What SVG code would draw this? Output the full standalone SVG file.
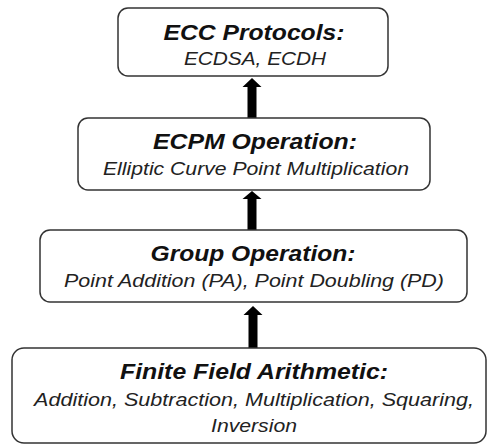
<svg xmlns="http://www.w3.org/2000/svg" width="488" height="444" viewBox="0 0 488 444">
<style>
.box{fill:#fff;stroke:#333;stroke-width:1.5}
.t{font-family:"Liberation Sans",Arial,sans-serif;font-weight:bold;font-style:italic;font-size:22px;fill:#111;text-anchor:middle}
.s{font-family:"Liberation Sans",Arial,sans-serif;font-style:italic;font-size:19px;fill:#222;text-anchor:middle}
.arr{fill:#000}
</style>
<rect width="488" height="444" fill="#fff"/>
<g id="connectors">
<path class="arr" d="M247.5,118 V87 H242.5 L252,78 L261.5,87 H256.5 V118 Z"/>
<path class="arr" d="M247.5,230 V199 H242.5 L252,191 L261.5,199 H256.5 V230 Z"/>
<path class="arr" d="M248.5,348 V315 H243.5 L253,306 L262.5,315 H257.5 V348 Z"/>
</g>
<g id="ecc">
<rect class="box" x="118" y="8" width="270" height="68" rx="10"/>
<text class="t" x="254" y="40" textLength="181" lengthAdjust="spacingAndGlyphs">ECC Protocols:</text>
<text class="s" x="255" y="65" textLength="142" lengthAdjust="spacingAndGlyphs">ECDSA, ECDH</text>
</g>
<g id="ecpm">
<rect class="box" x="78" y="118" width="352" height="72" rx="10"/>
<text class="t" x="255" y="149" textLength="204" lengthAdjust="spacingAndGlyphs">ECPM Operation:</text>
<text class="s" x="256" y="175" textLength="306" lengthAdjust="spacingAndGlyphs">Elliptic Curve Point Multiplication</text>
</g>
<g id="group">
<rect class="box" x="40" y="230" width="427" height="72" rx="10"/>
<text class="t" x="253" y="261" textLength="205" lengthAdjust="spacingAndGlyphs">Group Operation:</text>
<text class="s" x="254" y="287" textLength="380" lengthAdjust="spacingAndGlyphs">Point Addition (PA), Point Doubling (PD)</text>
</g>
<g id="ffa">
<rect class="box" x="12" y="348" width="474" height="95" rx="12"/>
<text class="t" x="254" y="379" textLength="268" lengthAdjust="spacingAndGlyphs">Finite Field Arithmetic:</text>
<text class="s" x="254" y="406" textLength="440" lengthAdjust="spacingAndGlyphs">Addition, Subtraction, Multiplication, Squaring,</text>
<text class="s" x="254" y="432" textLength="86" lengthAdjust="spacingAndGlyphs">Inversion</text>
</g>
</svg>
